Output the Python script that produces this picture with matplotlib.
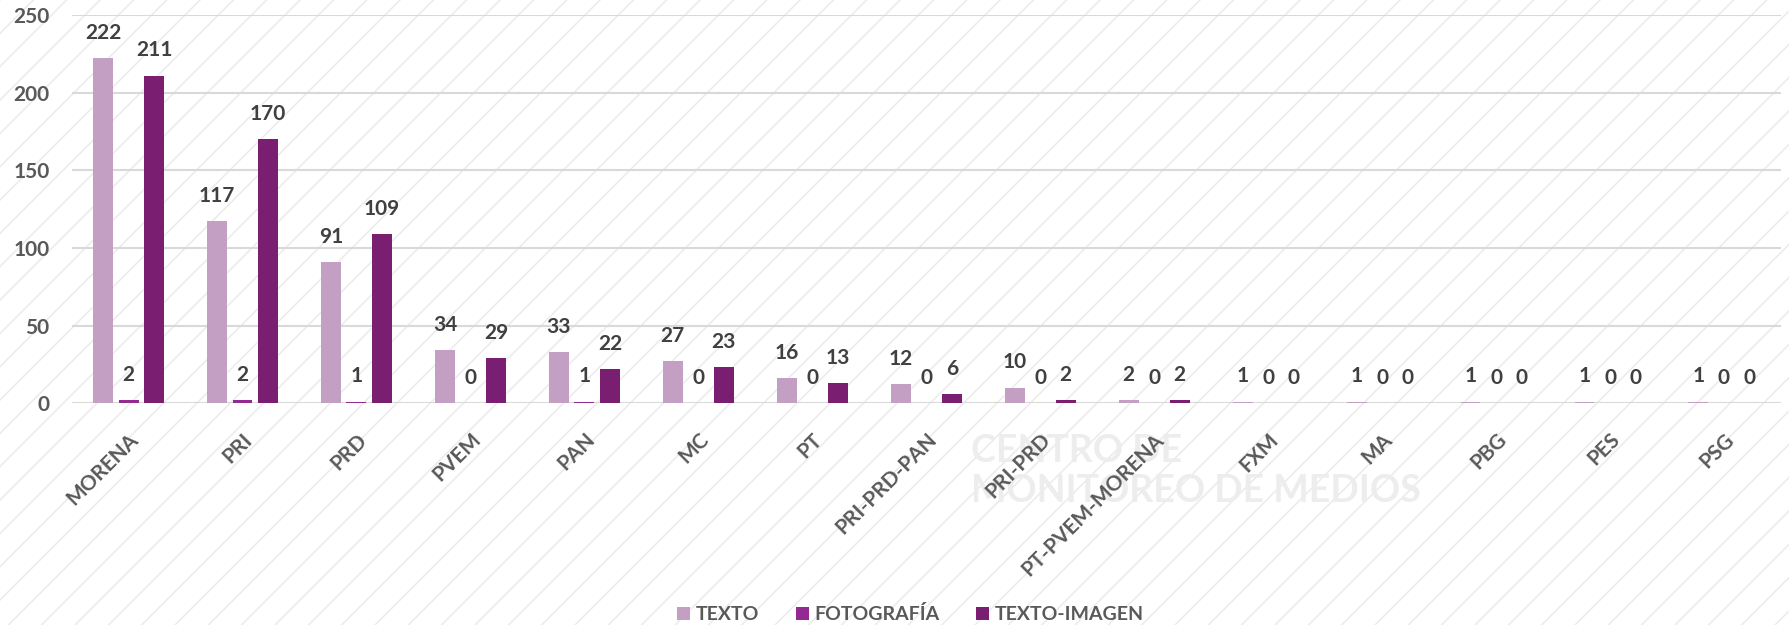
import matplotlib
matplotlib.use("Agg")
import matplotlib.pyplot as plt
import numpy as np
from matplotlib.patches import Rectangle

# datos del grafico
partidos = ["MORENA", "PRI", "PRD", "PVEM", "PAN", "MC", "PT", "PRI-PRD-PAN",
            "PRI-PRD", "PT-PVEM-MORENA", "FXM", "MA", "PBG", "PES", "PSG"]
texto = [222, 117, 91, 34, 33, 27, 16, 12, 10, 2, 1, 1, 1, 1, 1]
fotografia = [2, 2, 1, 0, 1, 0, 0, 0, 0, 0, 0, 0, 0, 0, 0]
texto_imagen = [211, 170, 109, 29, 22, 23, 13, 6, 2, 2, 0, 0, 0, 0, 0]
series = ["TEXTO", "FOTOGRAFÍA", "TEXTO-IMAGEN"]
colores = ["#C3A0C3", "#922A92", "#7A1E72"]
yticks = [0, 50, 100, 150, 200, 250]

plt.rcParams['font.family'] = ['Lato', 'DejaVu Sans']
plt.rcParams['hatch.color'] = '#EBEBEB'
plt.rcParams['hatch.linewidth'] = 1.1

fig = plt.figure(figsize=(17.89, 6.25), dpi=100)
# fondo con rayas diagonales
fondo = Rectangle((0, 0), 1, 1, transform=fig.transFigure, facecolor='white',
                  edgecolor='#EBEBEB', hatch='/', linewidth=0, zorder=-10)
fig.patches.append(fondo)

ax = fig.add_axes([0.040, 0.355, 0.9555, 0.621])
ax.set_facecolor('none')

# marca de agua
fig.text(0.543, 0.246, "CENTRO DE\nMONITOREO DE MEDIOS", color='#EDEDED',
         fontsize=27, fontweight='bold', ha='left', va='center',
         multialignment='left', linespacing=1.2, zorder=-5)

x = np.arange(len(partidos))
ancho = 0.175
paso = 0.224
gris = '#404040'
for i, (vals, nombre, col) in enumerate(zip([texto, fotografia, texto_imagen], series, colores)):
    pos = x + (i - 1) * paso
    barras = ax.bar(pos, vals, width=ancho, color=col, label=nombre, zorder=3)
    for b, v in zip(barras, vals):
        ax.annotate(str(v), (b.get_x() + b.get_width() / 2, v), xytext=(0, 11),
                    textcoords='offset points', ha='center', va='bottom',
                    fontsize=15, fontweight='bold', color=gris)

ax.set_xlim(-0.5, len(partidos) - 0.5)
ax.set_ylim(0, 250)
ax.set_yticks(yticks)
ax.yaxis.grid(True, color='#D9D9D9', linewidth=1.5, zorder=0)
ax.set_axisbelow(True)
for s in ax.spines.values():
    s.set_visible(False)
ax.tick_params(axis='both', length=0, labelsize=15, labelcolor='#595959')
ax.tick_params(axis='y', pad=16)
for t in ax.get_yticklabels():
    t.set_fontweight('bold')

ax.set_xticks(x)
ax.set_xticklabels(partidos, rotation=45, ha='right', va='top',
                   rotation_mode='anchor', fontweight='bold')
ax.tick_params(axis='x', pad=19)

fig.legend(loc='lower center', bbox_to_anchor=(0.509, -0.025), ncol=3, frameon=False,
           handlelength=0.65, handleheight=0.65, handletextpad=0.3,
           columnspacing=1.9, labelcolor='#595959',
           prop={'weight': 'bold', 'size': 14})

fig.savefig("out.png", dpi=100)
